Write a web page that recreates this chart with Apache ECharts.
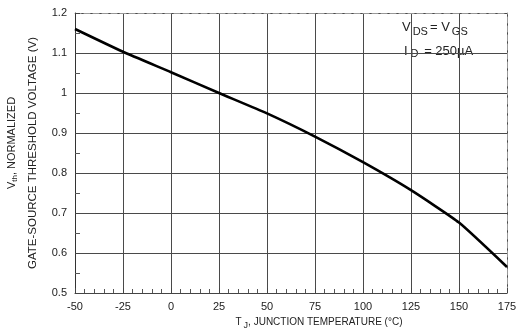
<!DOCTYPE html>
<html>
<head>
<meta charset="utf-8">
<script src="https://cdn.jsdelivr.net/npm/echarts@6/dist/echarts.min.js"></script>
<style>
  html, body { margin: 0; padding: 0; background: #fff; }
  #chart { width: 524px; height: 333px; }
</style>
</head>
<body>
<div id="chart"></div>
<script>
// temperature (°C) vs normalized threshold voltage
const temps = [-50, -25, 0, 25, 50, 75, 100, 125, 150, 175];
const vthNorm = [1.16, 1.103, 1.052, 1.0, 0.949, 0.891, 0.827, 0.757, 0.676, 0.565];

const xTicks = [-50, -25, 0, 25, 50, 75, 100, 125, 150, 175];
const yTicks = [0.5, 0.6, 0.7, 0.8, 0.9, 1, 1.1, 1.2];

const FONT = 'Liberation Sans, Arial, sans-serif';
const TXT = '#222';

const chart = echarts.init(document.getElementById('chart'));

const option = {
  animation: false,
  grid: { left: 75, right: 17, top: 13, bottom: 40 },
  xAxis: [
    {
      type: 'value',
      min: xTicks[0],
      max: xTicks[xTicks.length - 1],
      interval: 25,
      axisLine: { show: true, onZero: false, lineStyle: { color: '#444', width: 1 } },
      axisTick: { show: true, inside: true, length: 5, lineStyle: { color: '#444' } },
      minorTick: { show: true, splitNumber: 5, length: 4, lineStyle: { color: '#555' } },
      axisLabel: { color: TXT, fontFamily: FONT, fontSize: 11, margin: 8 },
      splitLine: { show: true, lineStyle: { color: '#4a4a4a', width: 1 } }
    },
    {
      type: 'value',
      position: 'top',
      min: xTicks[0],
      max: xTicks[xTicks.length - 1],
      axisLine: { show: true, onZero: false, lineStyle: { color: '#999', type: [6, 3] } },
      axisTick: { show: false },
      axisLabel: { show: false },
      splitLine: { show: false }
    }
  ],
  yAxis: [
    {
      type: 'value',
      min: yTicks[0],
      max: yTicks[yTicks.length - 1],
      interval: 0.1,
      axisLine: { show: true, onZero: false, lineStyle: { color: '#333', width: 1 } },
      axisTick: { show: true, inside: true, length: 5, lineStyle: { color: '#444' } },
      minorTick: { show: true, splitNumber: 2, length: 5, lineStyle: { color: '#555' } },
      axisLabel: { color: TXT, fontFamily: FONT, fontSize: 11, margin: 8 },
      splitLine: { show: true, lineStyle: { color: '#4a4a4a', width: 1 } }
    },
    {
      type: 'value',
      position: 'right',
      min: yTicks[0],
      max: yTicks[yTicks.length - 1],
      axisLine: { show: true, onZero: false, lineStyle: { color: '#999', type: [6, 3] } },
      axisTick: { show: false },
      axisLabel: { show: false },
      splitLine: { show: false }
    }
  ],
  series: [{
    type: 'line',
    data: temps.map((t, i) => [t, vthNorm[i]]),
    showSymbol: false,
    smooth: 0.15,
    lineStyle: { color: '#000', width: 2.6 }
  }],
  graphic: [
    {
      type: 'text',
      rotation: Math.PI / 2,
      x: 12,
      y: 143,
      style: {
        text: 'V{s|th}, NORMALIZED',
        fill: TXT,
        font: '11px ' + FONT,
        align: 'center',
        verticalAlign: 'middle',
        rich: {
          s: { fontSize: 8, fontFamily: FONT, fill: TXT, padding: [5, 0, 0, 0] }
        }
      }
    },
    {
      type: 'text',
      rotation: Math.PI / 2,
      x: 33,
      y: 153,
      style: {
        text: 'GATE-SOURCE THRESHOLD VOLTAGE (V)',
        fill: TXT,
        font: '11.5px ' + FONT,
        align: 'center',
        verticalAlign: 'middle'
      }
    },
    {
      type: 'text',
      x: 319,
      y: 322,
      style: {
        text: 'T{s|J}, JUNCTION TEMPERATURE (°C)',
        fill: TXT,
        font: '10px ' + FONT,
        align: 'center',
        verticalAlign: 'middle',
        rich: {
          s: { fontSize: 9, fontFamily: FONT, fill: TXT, padding: [7, 0, 0, 2] }
        }
      }
    },
    {
      type: 'text',
      x: 402,
      y: 27,
      style: {
        text: 'V{s|DS}= V{s|GS}',
        fill: TXT,
        font: '13px ' + FONT,
        verticalAlign: 'middle',
        rich: {
          s: { fontSize: 11, fontFamily: FONT, fill: TXT, padding: [10, 2, 0, 2] }
        }
      }
    },
    {
      type: 'text',
      x: 404,
      y: 51,
      style: {
        text: 'I{s|D} = 250\u00b5A',
        fill: TXT,
        font: '13px ' + FONT,
        verticalAlign: 'middle',
        rich: {
          s: { fontSize: 11, fontFamily: FONT, fill: TXT, padding: [6, 2, 0, 3] }
        }
      }
    }
  ]
};

chart.setOption(option);
</script>
</body>
</html>
